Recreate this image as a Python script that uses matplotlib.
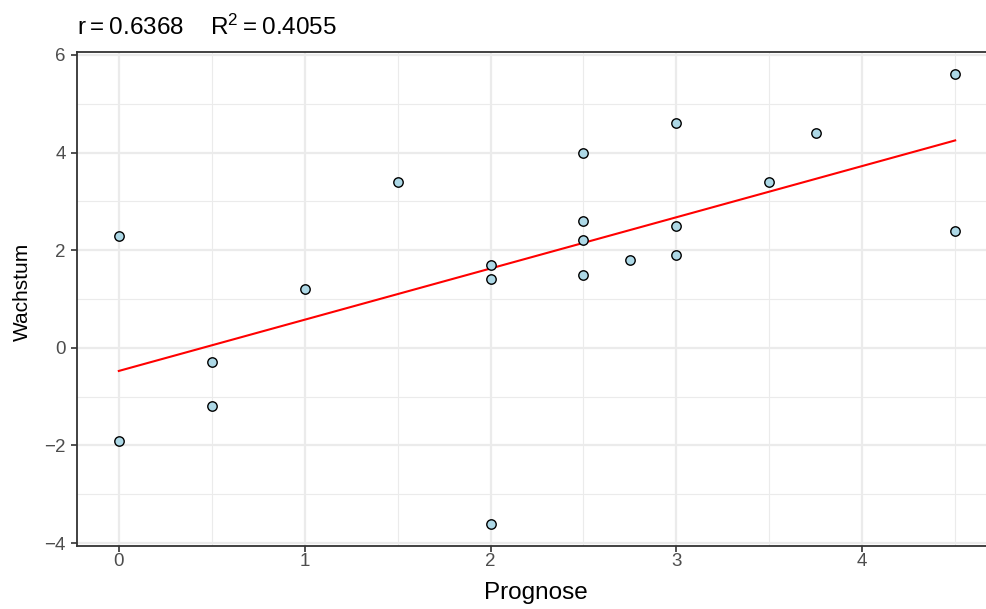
import numpy as np
import matplotlib
matplotlib.use('Agg')
import matplotlib.pyplot as plt
from matplotlib.ticker import MultipleLocator

plt.rcParams['font.family'] = ['Liberation Sans', 'DejaVu Sans']
plt.rcParams['mathtext.fontset'] = 'custom'
plt.rcParams['mathtext.rm'] = 'Liberation Sans'
plt.rcParams['mathtext.it'] = 'Liberation Sans'

# Prognose (x) vs Wachstum (y)
prognose = [0, 0, 0.5, 0.5, 1, 1.5, 2, 2, 2, 2.5, 2.5, 2.5, 2.5, 2.75,
            3, 3, 3, 3.5, 3.75, 4.5, 4.5]
wachstum = [2.3, -1.9, -0.3, -1.2, 1.2, 3.4, 1.7, 1.4, -3.6, 4.0, 2.6, 2.2, 1.5, 1.8,
            4.6, 2.5, 1.9, 3.4, 4.4, 5.6, 2.4]
title = 'r\u2009=\u20090.6368    R$^{2}$\u2009=\u20090.4055'

x = np.array(prognose)
y = np.array(wachstum)
slope, intercept = np.polyfit(x, y, 1)

W, H = 987, 609
fig = plt.figure(figsize=(W / 100, H / 100), dpi=100)
# panel runs past the right edge of the image, like the reference
ax = fig.add_axes([77 / W, 1 - 546 / H, (997 - 77) / W, (546 - 52) / H])

grid_c = '#EBEBEB'
ax.set_xlim(-0.225, 4.725)
ax.set_ylim(-4.06, 6.06)
ax.xaxis.set_major_locator(MultipleLocator(1))
ax.xaxis.set_minor_locator(MultipleLocator(0.5))
ax.yaxis.set_major_locator(MultipleLocator(2))
ax.yaxis.set_minor_locator(MultipleLocator(1))
ax.grid(which='major', color=grid_c, lw=1.6)
ax.grid(which='minor', color=grid_c, lw=0.8)
ax.set_axisbelow(True)

ax.plot([x.min(), x.max()], [intercept + slope * x.min(), intercept + slope * x.max()],
        color='red', lw=1.5, zorder=2)
ax.scatter(x, y, s=46, facecolor='#ADD8E6', edgecolor='black', lw=1.0, zorder=3)

for side in ('left', 'top', 'bottom'):
    ax.spines[side].set_color('#333333')
    ax.spines[side].set_linewidth(1.3)
ax.spines['right'].set_visible(False)
ax.tick_params(which='major', length=4, width=1.2, color='#333333',
               labelcolor='#4D4D4D', labelsize=13.5)
ax.tick_params(axis='x', pad=1)
ax.tick_params(axis='y', pad=4)
ax.tick_params(which='minor', length=0)
ax.set_yticks([-4, -2, 0, 2, 4, 6])
ax.set_yticklabels(['\u22124', '\u22122', '0', '2', '4', '6'])

fig.text(536 / W, 1 - 593 / H, 'Prognose', fontsize=17.5, ha='center', va='center')
fig.text(22 / W, 1 - 292 / H, 'Wachstum', fontsize=15, rotation=90,
         ha='center', va='center')
fig.text(77 / W, 1 - 27 / H, title, fontsize=17.5, ha='left', va='center')

fig.savefig('out.png', dpi=100)
